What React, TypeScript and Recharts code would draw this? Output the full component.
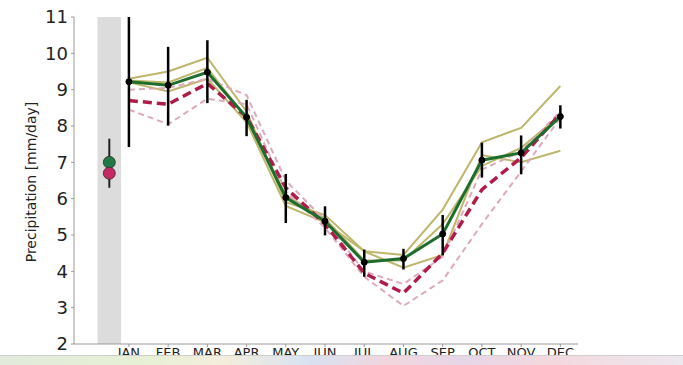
import { ComposedChart, Line, Scatter, XAxis, YAxis, ErrorBar, ReferenceArea } from "recharts";

const months = ["JAN", "FEB", "MAR", "APR", "MAY", "JUN", "JUL", "AUG", "SEP", "OCT", "NOV", "DEC"];

// ensemble mean (green) and its spread (black bars)
const greenMean = [9.22, 9.12, 9.48, 8.24, 6.03, 5.38, 4.25, 4.35, 5.03, 7.06, 7.26, 8.26];
const errLow = [7.42, 8.01, 8.63, 7.72, 5.33, 4.99, 3.85, 4.05, 4.44, 6.58, 6.67, 7.93];
const errHigh = [11.0, 10.18, 10.36, 8.72, 6.68, 5.79, 4.6, 4.62, 5.55, 7.54, 7.74, 8.57];

// thick dashed crimson
const redMean = [8.7, 8.6, 9.17, 8.25, 6.3, 5.3, 3.95, 3.4, 4.5, 6.25, 7.13, 8.34];

// individual members
const oliveA = [9.3, 9.5, 9.88, 8.4, 5.9, 5.55, 4.55, 4.45, 5.7, 7.55, 7.95, 9.1];
const oliveB = [9.2, 8.95, 9.3, 8.1, 5.8, 5.35, 4.55, 4.1, 4.45, 7.2, 7.0, 7.32];
const oliveC = [9.25, 9.2, 9.6, 8.2, 6.1, 5.45, 4.3, 4.3, 5.3, 6.9, 7.4, 8.3];
const pinkA = [9.0, 9.05, 9.3, 8.85, 6.5, 5.4, 4.0, 3.65, 4.4, 6.8, 7.3, 8.4];
const pinkB = [8.45, 8.05, 8.75, 8.6, 6.2, 5.2, 3.85, 3.05, 3.75, 5.3, 6.75, 8.22];

// reference values in the grey column
const refGreen = 7.0;
const refPink = 6.7;
const refLow = 6.3;
const refHigh = 7.65;

const yTicks = [2, 3, 4, 5, 6, 7, 8, 9, 10, 11];

const data = months.map((m, i) => ({
  x: i + 1,
  green: greenMean[i],
  err: [greenMean[i] - errLow[i], errHigh[i] - greenMean[i]],
  red: redMean[i],
  oliveA: oliveA[i],
  oliveB: oliveB[i],
  oliveC: oliveC[i],
  pinkA: pinkA[i],
  pinkB: pinkB[i],
}));

const refGreenData = [{ x: 0.5, y: refGreen, err: [refGreen - refLow, refHigh - refGreen] }];
const refPinkData = [{ x: 0.5, y: refPink }];

const font = "DejaVu Sans, sans-serif";
const olive = "#bdb66c";
const pink = "#dcaabb";

const dot = (fill: string) => (p: any) => (
  <circle cx={p.cx} cy={p.cy} r={6} fill={fill} stroke="#3a2a2a" strokeWidth={0.8} />
);

export default function App() {
  return (
    <div style={{ position: "absolute", left: 0, top: 0, width: 683, height: 365, background: "#fff", overflow: "hidden" }}>
      <ComposedChart width={683} height={365} data={data} margin={{ top: 17, right: 105, bottom: 0, left: 0 }}>
        <XAxis
          type="number"
          dataKey="x"
          domain={[-0.4, 12.45]}
          ticks={[1, 2, 3, 4, 5, 6, 7, 8, 9, 10, 11, 12]}
          tickFormatter={(v: number) => months[v - 1]}
          height={21}
          axisLine={{ stroke: "#999" }}
          tickLine={{ stroke: "#999" }}
          tickSize={3}
          tickMargin={1}
          tick={{ fontSize: 13, fill: "#222", fontFamily: font }}
          allowDataOverflow
        />
        <YAxis
          type="number"
          domain={[2, 11]}
          ticks={yTicks}
          width={74}
          axisLine={{ stroke: "#999" }}
          tickLine={{ stroke: "#999" }}
          tickSize={3}
          tickMargin={3}
          tick={{ fontSize: 18, fill: "#222", fontFamily: font }}
          allowDataOverflow
          label={{
            position: "center",
            content: () => (
              <text x={31} y={182} transform="rotate(-90 31 182)" textAnchor="middle" dominantBaseline="central" fontSize={14} fontFamily={font} fill="#222">
                Precipitation [mm/day]
              </text>
            ),
          }}
        />
        <ReferenceArea x1={0.2} x2={0.8} y1={2} y2={11} fill="#dcdcdc" fillOpacity={1} stroke="none" />
        <Line dataKey="oliveA" stroke={olive} strokeWidth={2} dot={false} isAnimationActive={false} />
        <Line dataKey="oliveB" stroke={olive} strokeWidth={2} dot={false} isAnimationActive={false} />
        <Line dataKey="oliveC" stroke={olive} strokeWidth={2} dot={false} isAnimationActive={false} />
        <Line dataKey="pinkA" stroke={pink} strokeWidth={2} strokeDasharray="6 4" dot={false} isAnimationActive={false} />
        <Line dataKey="pinkB" stroke={pink} strokeWidth={2} strokeDasharray="6 4" dot={false} isAnimationActive={false} />
        <Line dataKey="red" stroke="#b01c4a" strokeWidth={3.5} strokeDasharray="9 5" dot={false} isAnimationActive={false} />
        <Line dataKey="green" stroke="#1d6e2c" strokeWidth={3} dot={false} isAnimationActive={false} />
        <Line dataKey="green" stroke="none" dot={{ r: 3, fill: "#000", stroke: "#000" }} isAnimationActive={false}>
          <ErrorBar dataKey="err" width={0} stroke="#000" strokeWidth={2.5} direction="y" />
        </Line>
        <Scatter data={refGreenData} dataKey="y" shape={dot("#1f7a48")} isAnimationActive={false}>
          <ErrorBar dataKey="err" width={0} stroke="#222" strokeWidth={2} direction="y" />
        </Scatter>
        <Scatter data={refPinkData} dataKey="y" shape={dot("#c52a66")} isAnimationActive={false} />
      </ComposedChart>
      <div
        style={{
          position: "absolute",
          left: 0,
          top: 355,
          width: 683,
          height: 10,
          borderTop: "1px solid #cfcfcf",
          background:
            "linear-gradient(to right, #e2eadc 0%, #e6f0d4 20%, #f3eedc 33%, #d8e2f2 45%, #f2d6de 57%, #e6d6e8 68%, #f4d8de 80%, #ece8ee 100%)",
        }}
      />
    </div>
  );
}
